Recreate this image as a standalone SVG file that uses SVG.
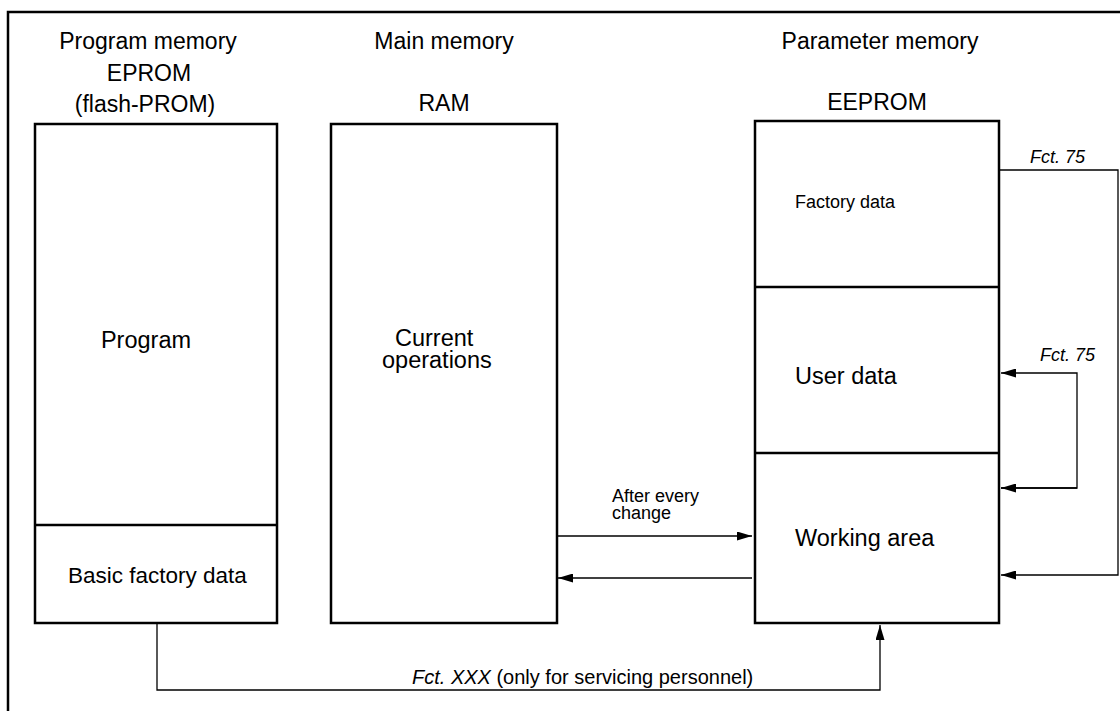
<svg xmlns="http://www.w3.org/2000/svg" width="1120" height="711" viewBox="0 0 1120 711">
<defs>
<style>
text{font-family:"Liberation Sans",Arial,sans-serif;fill:#000}
.h{font-size:23px}
.b{font-size:23.5px}
.s{font-size:18px}
.f{font-size:20px}
.i{font-style:italic}
.box{fill:#fff;stroke:#000;stroke-width:2.5}
.ln{fill:none;stroke:#000;stroke-width:1.3}
</style>
<marker id="ah" markerWidth="15" markerHeight="9" refX="15" refY="4.5" orient="auto" markerUnits="userSpaceOnUse">
<path d="M0,0 L15,4.5 L0,9 Z" fill="#000"/>
</marker>
</defs>
<rect width="1120" height="711" fill="#fff"/>
<path d="M8,711 V12 H1120" fill="none" stroke="#000" stroke-width="2.5"/>

<g id="program-memory">
<text class="h" x="148" y="49" text-anchor="middle">Program memory</text>
<text class="h" x="149" y="81" text-anchor="middle">EPROM</text>
<text class="h" x="145" y="112" text-anchor="middle">(flash-PROM)</text>
<rect class="box" x="35" y="124" width="242" height="499"/>
<line x1="35" y1="525" x2="277" y2="525" stroke="#000" stroke-width="2.5"/>
<text class="b" x="146" y="348" text-anchor="middle">Program</text>
<text class="b" x="68" y="583" style="font-size:22.5px">Basic factory data</text>
</g>

<g id="main-memory">
<text class="h" x="444" y="49" text-anchor="middle">Main memory</text>
<text class="h" x="444" y="111" text-anchor="middle">RAM</text>
<rect class="box" x="331" y="124" width="226" height="499"/>
<text class="b" x="395" y="346">Current</text>
<text class="b" x="382" y="368">operations</text>
</g>

<g id="parameter-memory">
<text class="h" x="880" y="49" text-anchor="middle">Parameter memory</text>
<text class="h" x="877" y="110" text-anchor="middle">EEPROM</text>
<rect class="box" x="755" y="121" width="244" height="502"/>
<line x1="755" y1="287" x2="999" y2="287" stroke="#000" stroke-width="2.5"/>
<line x1="755" y1="453" x2="999" y2="453" stroke="#000" stroke-width="2.5"/>
<text class="s" x="795" y="208">Factory data</text>
<text class="b" x="795" y="384">User data</text>
<text class="b" x="795" y="546">Working area</text>
</g>

<g id="connectors">
<line class="ln" x1="558" y1="536" x2="752" y2="536" marker-end="url(#ah)"/>
<text class="s" x="612" y="502">After every</text>
<text class="s" x="612" y="519">change</text>
<line class="ln" x1="752" y1="578" x2="558" y2="578" marker-end="url(#ah)"/>
<path class="ln" d="M1000,170 H1118 V575 H1001" marker-end="url(#ah)"/>
<text class="s i" x="1030" y="163">Fct. 75</text>
<path class="ln" d="M1001,488 H1077 V373 H1001" marker-end="url(#ah)"/>
<line class="ln" x1="1077" y1="488" x2="1001" y2="488" marker-end="url(#ah)"/>
<text class="s i" x="1040" y="361">Fct. 75</text>
<path class="ln" d="M157,624 V690 H880 V625" marker-end="url(#ah)"/>
<text class="f" x="412" y="684"><tspan class="i">Fct. XXX</tspan> (only for servicing personnel)</text>
</g>
</svg>
